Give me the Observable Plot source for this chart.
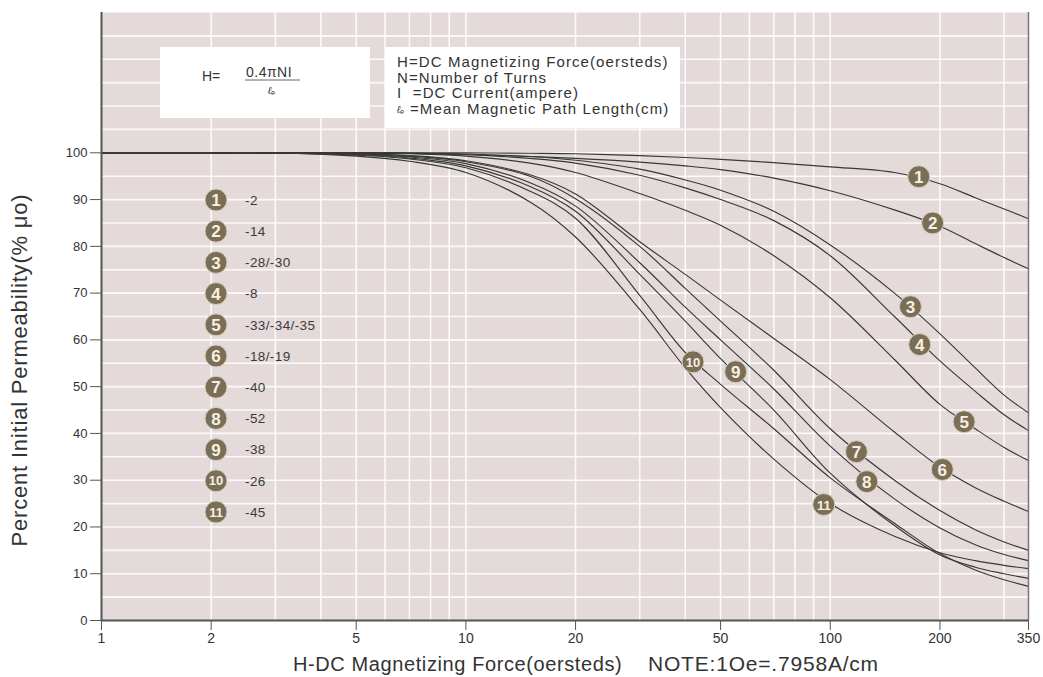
<!DOCTYPE html>
<html>
<head>
<meta charset="utf-8">
<script src="https://cdn.jsdelivr.net/npm/d3@7"></script>
<script src="https://cdn.jsdelivr.net/npm/@observablehq/plot@0.6"></script>
<style>
  body { margin: 0; background: #ffffff; }
  #chart { width: 1043px; height: 677px; }
  #chart svg { display: block; }
</style>
</head>
<body>
<div id="chart"></div>
<script>
// ---------- data ----------
const hValues = [1, 2, 3, 5, 7, 10, 15, 20, 30, 40, 50, 70, 100, 150, 200, 250, 300, 350];

const curve1  = [100, 100, 100, 100, 100, 100, 99.9, 99.8, 99.4, 99.0, 98.6, 97.9, 97.0, 95.8, 93.4, 90.4, 88.0, 85.9];
const curve2  = [100, 100, 100, 100, 99.9, 99.7, 99.2, 98.8, 98.0, 97.2, 96.4, 94.6, 91.9, 87.8, 84.3, 80.6, 77.6, 75.2];
const curve3  = [100, 100, 100, 100, 99.9, 99.7, 99.2, 98.4, 96.5, 94.2, 92.0, 87.5, 80.3, 70.0, 61.3, 54.0, 48.2, 44.4];
const curve4  = [100, 100, 100, 100, 99.9, 99.6, 98.8, 97.8, 95.2, 92.5, 90.0, 85.5, 78.0, 65.0, 55.5, 49.0, 44.0, 40.6];
const curve5  = [100, 100, 100, 100, 99.8, 99.3, 97.8, 95.8, 91.3, 87.7, 84.5, 78.0, 69.0, 55.8, 46.2, 41.0, 37.0, 34.2];
const curve6  = [100, 100, 100, 99.8, 99.4, 98.3, 95.3, 91.2, 81.0, 74.0, 68.5, 60.3, 51.5, 40.3, 32.8, 28.4, 25.5, 23.3];
const curve7  = [100, 100, 100, 99.8, 99.3, 98.1, 95.0, 90.2, 80.0, 71.0, 64.0, 53.5, 41.0, 30.0, 23.5, 19.4, 16.8, 15.0];
const curve8  = [100, 100, 100, 99.7, 99.1, 97.7, 93.6, 88.6, 76.5, 67.0, 60.0, 49.5, 37.3, 26.0, 19.8, 16.2, 14.1, 12.8];
const curve9  = [100, 100, 100, 99.6, 98.9, 97.2, 92.8, 87.5, 74.0, 64.0, 56.0, 45.0, 31.5, 20.3, 14.0, 11.4, 10.0, 9.0];
const curve10 = [100, 100, 100, 99.5, 98.7, 96.8, 91.8, 86.0, 69.5, 57.3, 50.5, 41.0, 30.5, 20.8, 14.3, 10.8, 8.7, 7.3];
const curve11 = [100, 100, 100, 99.3, 98.2, 95.8, 89.5, 82.0, 66.5, 54.0, 45.5, 34.5, 25.0, 18.0, 14.5, 12.8, 11.8, 11.1];

const curveNumbers = [1, 2, 3, 4, 5, 6, 7, 8, 9, 10, 11];
const materialNames = ["-2", "-14", "-28/-30", "-8", "-33/-34/-35", "-18/-19", "-40", "-52", "-38", "-26", "-45"];

// where each numbered badge sits on its curve (H, %)
const badgeH = [175, 191, 166, 176, 233, 203, 118, 126, 55, 42, 96];
const badgeP = [94.9, 85.0, 67.1, 59.0, 42.5, 32.3, 36.1, 29.7, 53.2, 55.3, 24.8];

const xTicks = [1, 2, 5, 10, 20, 50, 100, 200, 350];
const yTicks = [0, 10, 20, 30, 40, 50, 60, 70, 80, 90, 100];
const xGrid = [2, 3, 4, 5, 6, 7, 8, 9, 10, 20, 30, 40, 50, 60, 70, 80, 90, 100, 200, 300];
const yGrid = [5, 10, 15, 20, 25, 30, 35, 40, 45, 50, 55, 60, 65, 70, 75, 80, 85, 90, 95, 100, 105, 110, 115, 120, 125];

const definitionLines = ["H=DC Magnetizing Force(oersteds)", "N=Number of Turns", "I  =DC Current(ampere)", "=Mean Magnetic Path Length(cm)"];

// ---------- build tables ----------
const allCurves = [curve1, curve2, curve3, curve4, curve5, curve6, curve7, curve8, curve9, curve10, curve11];
const rows = [];
allCurves.forEach((vals, i) => {
  vals.forEach((v, j) => rows.push({ id: curveNumbers[i], h: hValues[j], p: v }));
});
const badges = curveNumbers.map((n, i) => ({ n, h: badgeH[i], p: badgeP[i] }));

const FONT = "'Liberation Sans', Arial, Helvetica, sans-serif";
const BADGE = "#7b6e56";
const BADGE_TXT = "#f7f1e2";

const plot = Plot.plot({
  width: 1043,
  height: 677,
  marginLeft: 101,
  marginRight: 15,
  marginTop: 12,
  marginBottom: 57,
  x: { type: "log", domain: [1, 350], axis: null },
  y: { domain: [0, 130], axis: null },
  style: { fontFamily: FONT, background: "#ffffff", color: "#333" },
  marks: [
    Plot.frame({ fill: "#e4dada", stroke: null }),
    Plot.ruleX(xGrid, { stroke: "#ffffff", strokeWidth: 1.6, strokeOpacity: 0.85 }),
    Plot.ruleY(yGrid, { stroke: "#ffffff", strokeWidth: 1.6, strokeOpacity: 0.85 }),
    Plot.line(rows, { x: "h", y: "p", z: "id", stroke: "#383838", strokeWidth: 1.15, curve: "catmull-rom" }),
    Plot.ruleX([350], { stroke: "#777", strokeWidth: 1.5 }),
    Plot.ruleY([0], { stroke: "#555", strokeWidth: 2 }),
    Plot.ruleX([1], { stroke: "#555", strokeWidth: 2 }),
    Plot.axisY(yTicks, { anchor: "left", tickSize: 11, tickPadding: 3, fontSize: 13, stroke: "#555", fill: "#333", label: null, tickFormat: d => `${d}` }),
    Plot.axisX(xTicks, { anchor: "bottom", tickSize: 10, tickPadding: 3, fontSize: 14, stroke: "#555", fill: "#333", label: null, tickFormat: d => `${d}` }),
    Plot.dot(badges, { x: "h", y: "p", r: 11, fill: BADGE, stroke: "#d9d2c2", strokeWidth: 1 }),
    Plot.text(badges, { x: "h", y: "p", text: d => `${d.n}`, fill: BADGE_TXT, fontWeight: "bold",
      fontSize: d => d.n >= 10 ? 13 : 17, dy: 1 })
  ]
});

document.getElementById("chart").appendChild(plot);

// ---------- annotations (layout) ----------
const svg = d3.select(plot);
const g = svg.append("g").attr("font-family", FONT).attr("fill", "#333").attr("text-anchor", "start");

// formula box
g.append("rect").attr("x", 160).attr("y", 47).attr("width", 210).attr("height", 71).attr("fill", "#ffffff");
g.append("text").attr("x", 202).attr("y", 81).attr("font-size", 14).text("H=");
g.append("text").attr("x", 246).attr("y", 77).attr("font-size", 14).attr("letter-spacing", 0.5).text("0.4\u03c0NI");
g.append("line").attr("x1", 245).attr("x2", 300).attr("y1", 80).attr("y2", 80).attr("stroke", "#555").attr("stroke-width", 0.9);
g.append("text").attr("x", 268).attr("y", 94).attr("font-size", 10).attr("font-style", "italic").text("\u2113\u2091");

// definitions box
g.append("rect").attr("x", 385).attr("y", 47).attr("width", 295).attr("height", 81).attr("fill", "#ffffff");
definitionLines.forEach((t, i) => {
  g.append("text").attr("x", i === 3 ? 410 : 397).attr("y", 67 + i * 15.5).attr("font-size", 15)
    .attr("letter-spacing", 1.1).attr("xml:space", "preserve").style("white-space", "pre").text(t);
});
g.append("text").attr("x", 397).attr("y", 113).attr("font-size", 10).attr("font-style", "italic").text("\u2113\u2091");

// legend of curve numbers
const legend = g.append("g");
curveNumbers.forEach((n, i) => {
  const cy = 200 + i * 31.2;
  legend.append("circle").attr("cx", 216).attr("cy", cy).attr("r", 11).attr("fill", BADGE).attr("stroke", "#d9d2c2").attr("stroke-width", 1);
  legend.append("text").attr("x", 216).attr("y", cy).attr("dy", "0.36em").attr("text-anchor", "middle")
    .attr("fill", BADGE_TXT).attr("font-weight", "bold").attr("font-size", n >= 10 ? 13 : 17).text(`${n}`);
  legend.append("text").attr("x", 245).attr("y", cy).attr("dy", "0.35em").attr("font-size", 13.5).attr("letter-spacing", 0.4).attr("fill", "#3a3a3a").text(materialNames[i]);
});

// axis titles
g.append("text").attr("transform", "translate(27,370) rotate(-90)").attr("text-anchor", "middle")
  .attr("font-size", 22).attr("letter-spacing", 0.8).attr("fill", "#333").text("Percent Initial Permeability(% \u03bco)");
g.append("text").attr("x", 293).attr("y", 671).attr("font-size", 20).attr("letter-spacing", 0.6).attr("fill", "#333").text("H-DC Magnetizing Force(oersteds)");
g.append("text").attr("x", 648).attr("y", 671).attr("font-size", 21).attr("letter-spacing", 0.8).attr("fill", "#333").text("NOTE:1Oe=.7958A/cm");
</script>
</body>
</html>
